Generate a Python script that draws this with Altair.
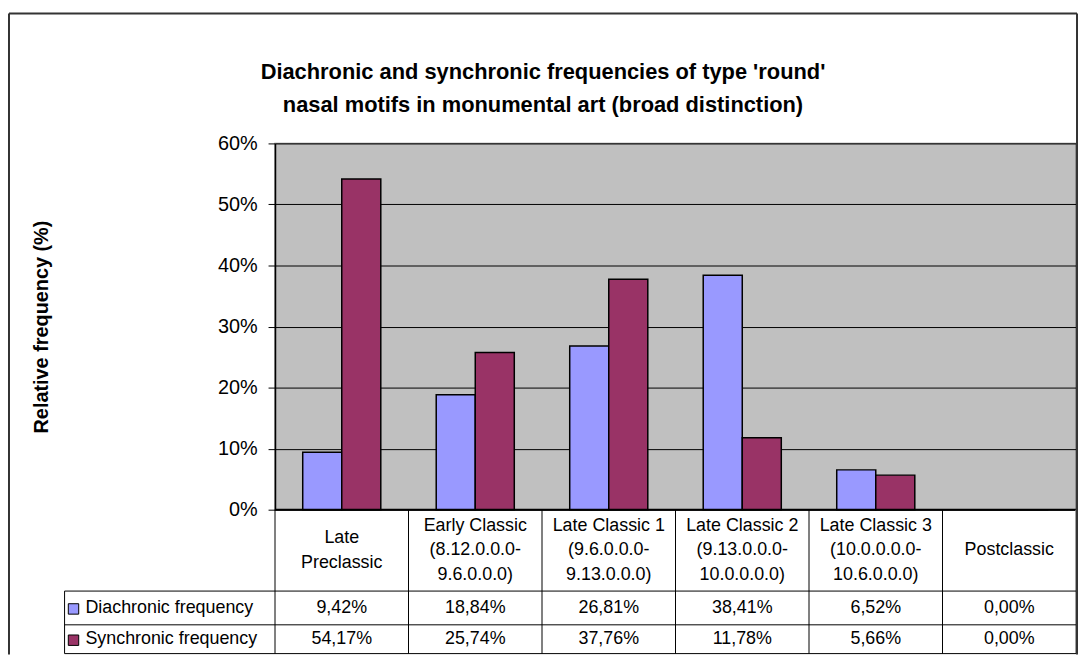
import altair as alt
import pandas as pd

# ---------------- data ----------------
categories = [
    "Late\nPreclassic",
    "Early Classic\n(8.12.0.0.0-\n9.6.0.0.0)",
    "Late Classic 1\n(9.6.0.0.0-\n9.13.0.0.0)",
    "Late Classic 2\n(9.13.0.0.0-\n10.0.0.0.0)",
    "Late Classic 3\n(10.0.0.0.0-\n10.6.0.0.0)",
    "Postclassic",
]
series = ["Diachronic frequency", "Synchronic frequency"]
diachronic = [0.0942, 0.1884, 0.2681, 0.3841, 0.0652, 0.0]
synchronic = [0.5417, 0.2574, 0.3776, 0.1178, 0.0566, 0.0]
colors = ["#9999FF", "#993366"]
y_ticks = [0.0, 0.1, 0.2, 0.3, 0.4, 0.5, 0.6]
title_lines = [
    "Diachronic and synchronic frequencies of type 'round'",
    "nasal motifs in monumental art (broad distinction)",
]
y_title = "Relative frequency (%)"

# ---------------- layout (pixels, relative to plot area) ----------------
W, H = 807, 369
HEADER_BOTTOM = 451
ROW1_BOTTOM = 485
TABLE_BOTTOM = 514
LEGEND_LEFT = -212
BORDER_LEFT = -268
BORDER_TOP = -131
ROW_Y = [468, 499.5]
LINE_H = 25
FONT = "Liberation Sans"

rows = []
for s, vals in zip(series, [diachronic, synchronic]):
    for c, v in zip(categories, vals):
        rows.append({"category": c, "series": s, "value": v,
                     "label": f"{v * 100:.2f}%".replace(".", ",")})
df = pd.DataFrame(rows)
cat_df = pd.DataFrame({"category": categories,
                       "nlines": [c.count("\n") + 1 for c in categories]})

xscale = alt.Scale(domain=categories, paddingInner=0, paddingOuter=0)


def xenc(**kw):
    return alt.X("category:N", sort=categories, scale=xscale, axis=None, **kw)


color_enc = alt.Color("series:N", scale=alt.Scale(domain=series, range=colors), legend=None)

bars = alt.Chart(df).mark_bar(stroke="black", strokeWidth=1.5).encode(
    x=xenc(),
    xOffset=alt.XOffset("series:N", sort=series,
                        scale=alt.Scale(domain=series, paddingInner=0, paddingOuter=0.71)),
    y=alt.Y("value:Q", scale=alt.Scale(domain=[0, 0.6]),
            axis=alt.Axis(values=y_ticks, format=".0%", title=y_title,
                          titleFont=FONT, titleFontSize=20, titleFontWeight="bold",
                          titleColor="black", titleX=-225, titleY=H / 2, titleAngle=-90,
                          labelFont=FONT, labelFontSize=20, labelColor="black",
                          labelPadding=11, tickSize=7, tickColor="black", tickWidth=1,
                          domainColor="black", domainWidth=1.5,
                          grid=True, gridColor="black", gridWidth=1)),
    color=color_enc,
)

baseline = alt.Chart(pd.DataFrame({"v": [0]})).mark_rule(color="black", strokeWidth=2).encode(
    y=alt.Y("v:Q")
)

# table vertical separators (left edge of every category and right edge of the last)
vlines = alt.Chart(cat_df).mark_rule(color="black", strokeWidth=1).encode(
    x=xenc(bandPosition=0), y=alt.value(H), y2=alt.value(TABLE_BOTTOM)
)
vline_end = alt.Chart(cat_df.tail(1)).mark_rule(color="#808080", strokeWidth=1.5).encode(
    x=xenc(bandPosition=1), y=alt.value(H), y2=alt.value(TABLE_BOTTOM)
)

layers = [bars, baseline, vlines, vline_end]

# horizontal table lines
for yy in [HEADER_BOTTOM, ROW1_BOTTOM, TABLE_BOTTOM]:
    layers.append(
        alt.Chart(cat_df.head(1)).mark_rule(color="black", strokeWidth=1).encode(
            x=alt.value(LEGEND_LEFT), x2=alt.value(W), y=alt.value(yy)
        )
    )
# legend column left edge
layers.append(
    alt.Chart(cat_df.head(1)).mark_rule(color="black", strokeWidth=1).encode(
        x=alt.value(LEGEND_LEFT), y=alt.value(HEADER_BOTTOM), y2=alt.value(TABLE_BOTTOM)
    )
)

# header labels, vertically centred in the header row according to their line count
header_mid = (H + HEADER_BOTTOM) / 2
for n in sorted(cat_df["nlines"].unique()):
    layers.append(
        alt.Chart(cat_df[cat_df["nlines"] == n]).mark_text(
            font=FONT, fontSize=18, lineBreak="\n", lineHeight=LINE_H,
            baseline="middle", color="black").encode(
            x=xenc(), y=alt.value(header_mid - (n - 1) * LINE_H / 2), text="category:N"
        )
    )

# values + legend column
for i, s in enumerate(series):
    sub = df[df["series"] == s]
    layers.append(
        alt.Chart(sub).mark_text(font=FONT, fontSize=18, baseline="middle", color="black").encode(
            x=xenc(), y=alt.value(ROW_Y[i]), text="label:N"
        )
    )
    sdf = pd.DataFrame({"series": [s]})
    layers.append(
        alt.Chart(sdf).mark_square(size=110, opacity=1, stroke="black", strokeWidth=1).encode(
            x=alt.value(LEGEND_LEFT + 9), y=alt.value(ROW_Y[i] + 1), color=color_enc
        )
    )
    layers.append(
        alt.Chart(sdf).mark_text(font=FONT, fontSize=18, align="left", baseline="middle",
                                 color="black").encode(
            x=alt.value(LEGEND_LEFT + 21), y=alt.value(ROW_Y[i]), text="series:N"
        )
    )

# title
tdf = pd.DataFrame({"t": title_lines, "i": [0, 1]})
for i, t in enumerate(title_lines):
    layers.append(
        alt.Chart(tdf[tdf["i"] == i]).mark_text(font=FONT, fontSize=22, fontWeight="bold",
                                              baseline="middle", color="black").encode(
            x=alt.value(270), y=alt.value(-72 + 33 * i), text="t:N"
        )
    )

# outer chart border (left, top, right)
border = dict(color="#333333", strokeWidth=2)
layers.append(alt.Chart(cat_df.head(1)).mark_rule(**border).encode(
    x=alt.value(BORDER_LEFT), y=alt.value(BORDER_TOP), y2=alt.value(TABLE_BOTTOM + 1)))
layers.append(alt.Chart(cat_df.head(1)).mark_rule(**border).encode(
    x=alt.value(BORDER_LEFT), x2=alt.value(W + 1), y=alt.value(BORDER_TOP)))
layers.append(alt.Chart(cat_df.head(1)).mark_rule(**border).encode(
    x=alt.value(W + 1), y=alt.value(BORDER_TOP), y2=alt.value(TABLE_BOTTOM + 1)))

chart = alt.layer(*layers).properties(
    width=W, height=H,
    padding={"left": 0, "top": 2, "right": 0, "bottom": 0},
    background="white",
).configure_view(
    fill="#C0C0C0", stroke="#808080", strokeWidth=1.5
)

chart.save("out.html", embed_options={"renderer": "svg", "actions": False})
